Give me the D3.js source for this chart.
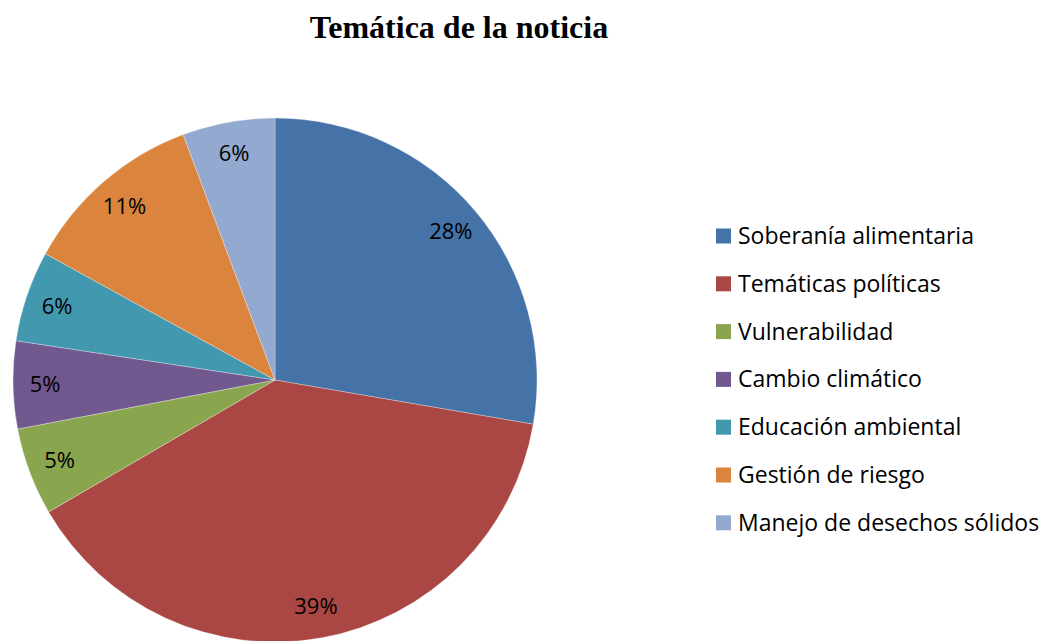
<!DOCTYPE html>
<html><head><meta charset="utf-8">
<script src="https://cdn.jsdelivr.net/npm/d3@7"></script>
<style>html,body{margin:0;padding:0;background:#fff;}</style>
</head><body>
<svg id="chart" width="1058" height="641"></svg>
<script>
const title = "Temática de la noticia";
const categories = ["Soberanía alimentaria","Temáticas políticas","Vulnerabilidad","Cambio climático","Educación ambiental","Gestión de riesgo","Manejo de desechos sólidos"];
const values = [27.7, 38.9, 5.4, 5.4, 5.6, 11.3, 5.7];
const colors = ["#4572A7","#AA4643","#89A54E","#71588F","#4198AF","#DB843D","#93A9CF"];

const svg = d3.select("#chart");
const cx = 275, cy = 380, r = 262, labelR = 230;
const total = d3.sum(values);
const data = categories.map((c,i)=>({cat:c, value:values[i], color:colors[i]}));

svg.append("text").attr("x",459).attr("y",38).attr("text-anchor","middle")
  .attr("font-family","'Liberation Serif','Times New Roman',serif").attr("font-weight","bold")
  .attr("font-size",32).attr("fill","#000").text(title);

const pie = d3.pie().value(d=>d.value).sort(null);
const arc = d3.arc().innerRadius(0).outerRadius(r);
const labelArc = d3.arc().innerRadius(labelR).outerRadius(labelR);
const g = svg.append("g").attr("transform",`translate(${cx},${cy})`);
const arcs = pie(data);
g.selectAll("path").data(arcs).join("path").attr("d",arc).attr("fill",d=>d.data.color)
  .attr("stroke","#fff").attr("stroke-width",0.5).attr("stroke-opacity",0.6);
g.selectAll("text").data(arcs).join("text")
  .attr("transform",d=>`translate(${labelArc.centroid(d)})`)
  .attr("text-anchor","middle").attr("dy","0.35em")
  .attr("font-family","'Open Sans',sans-serif").attr("font-size",22).attr("fill","#000")
  .text(d=>Math.round(d.data.value/total*100)+"%");

const leg = svg.append("g").attr("transform","translate(716,236)");
const rows = leg.selectAll("g").data(data).join("g").attr("transform",(d,i)=>`translate(0,${i*47.8})`);
rows.append("rect").attr("x",0).attr("y",-7.5).attr("width",15).attr("height",15).attr("fill",d=>d.color);
rows.append("text").attr("x",22).attr("dy","0.35em").attr("font-family","'Open Sans',sans-serif")
  .attr("font-size",23).attr("fill","#000").text(d=>d.cat);
</script>
</body></html>
